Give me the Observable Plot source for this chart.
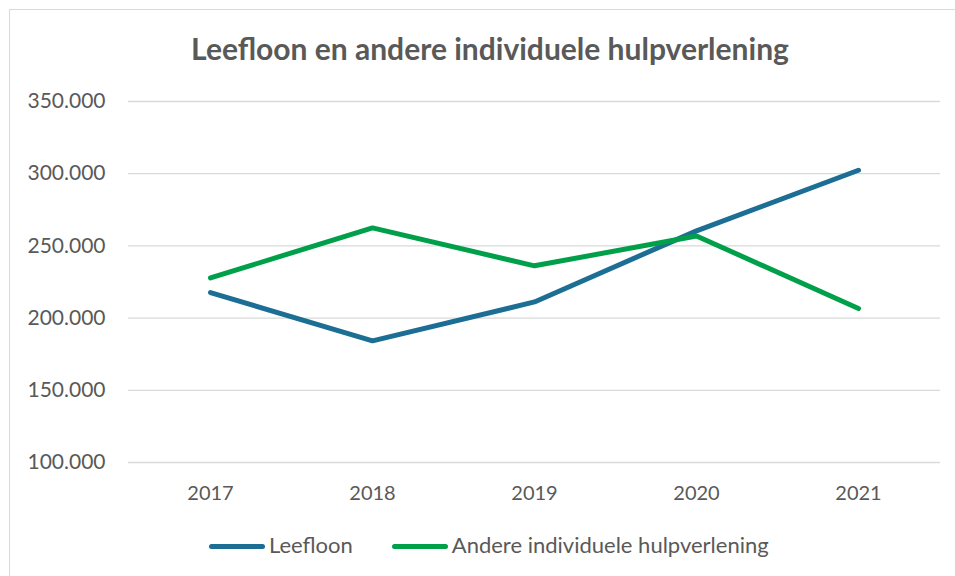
<!DOCTYPE html>
<html><head><meta charset="utf-8">
<script src="https://cdn.jsdelivr.net/npm/d3@7"></script>
<script src="https://cdn.jsdelivr.net/npm/@observablehq/plot@0.6"></script>
<style>
body{margin:0;background:#fff;font-family:Lato,"Open Sans",sans-serif;}
#wrap{position:relative;width:955px;height:576px;overflow:hidden;background:#fff;}
#frame{position:absolute;left:9px;top:9px;width:960px;height:620px;border:1px solid #d9d9d9;}
#title{position:absolute;left:0;width:980px;top:33px;line-height:30px;text-align:center;font-weight:bold;font-size:30px;color:#595959;white-space:nowrap;}
#chart{position:absolute;left:0;top:0;}
#legend{position:absolute;top:534px;left:209px;display:flex;align-items:center;font-size:22px;line-height:22px;color:#595959;white-space:nowrap;}
.sw{display:inline-block;width:56px;height:5px;border-radius:3px;margin-right:4px;position:relative;top:1px;}
.item{display:flex;align-items:center;margin-right:39px;}
</style></head>
<body>
<div id="wrap">
  <div id="frame"></div>
  <div id="chart"></div>
  <div id="title">Leefloon en andere individuele hulpverlening</div>
  <div id="legend"></div>
</div>
<script>
const years = ["2017","2018","2019","2020","2021"];
const leefloon = [217700,184200,211200,260400,302400];
const andere = [227800,262500,236200,256900,206600];
const seriesNames = ["Leefloon","Andere individuele hulpverlening"];
const seriesColors = ["#1c6e94","#00a04b"];
const yTicks = [100000,150000,200000,250000,300000,350000];

const data = [];
years.forEach((yr,i)=>{ data.push({year:yr, value:leefloon[i], series:seriesNames[0]}); });
years.forEach((yr,i)=>{ data.push({year:yr, value:andere[i], series:seriesNames[1]}); });

const fmt = d3.formatLocale({decimal:",", thousands:".", grouping:[3], currency:["€",""]}).format(",");

const chart = Plot.plot({
  width:955, height:520,
  marginLeft:128, marginRight:15, marginTop:101, marginBottom:58,
  style:{fontFamily:"Lato, 'Open Sans', sans-serif", fontSize:"20px", color:"#595959", background:"transparent"},
  x:{type:"point", domain:years, padding:0.5},
  y:{domain:[100000,350000]},
  color:{domain:seriesNames, range:seriesColors},
  marks:[
    Plot.ruleY(yTicks, {stroke:"#d9d9d9", strokeWidth:1.3}),
    Plot.axisY({ticks:yTicks, tickSize:0, tickPadding:23, tickFormat:fmt, label:null, fontSize:21}),
    Plot.axisX({tickSize:0, tickPadding:23, label:null, fontSize:20}),
    Plot.line(data, {x:"year", y:"value", z:"series", stroke:"series", strokeWidth:5, strokeLinecap:"round", strokeLinejoin:"miter"})
  ]
});
document.getElementById("chart").appendChild(chart);

const legend = document.getElementById("legend");
seriesNames.forEach((n,i)=>{
  const it = document.createElement("div"); it.className="item";
  const sw = document.createElement("span"); sw.className="sw"; sw.style.background=seriesColors[i];
  const t = document.createElement("span"); t.textContent=n;
  it.appendChild(sw); it.appendChild(t); legend.appendChild(it);
});
</script>
</body></html>
